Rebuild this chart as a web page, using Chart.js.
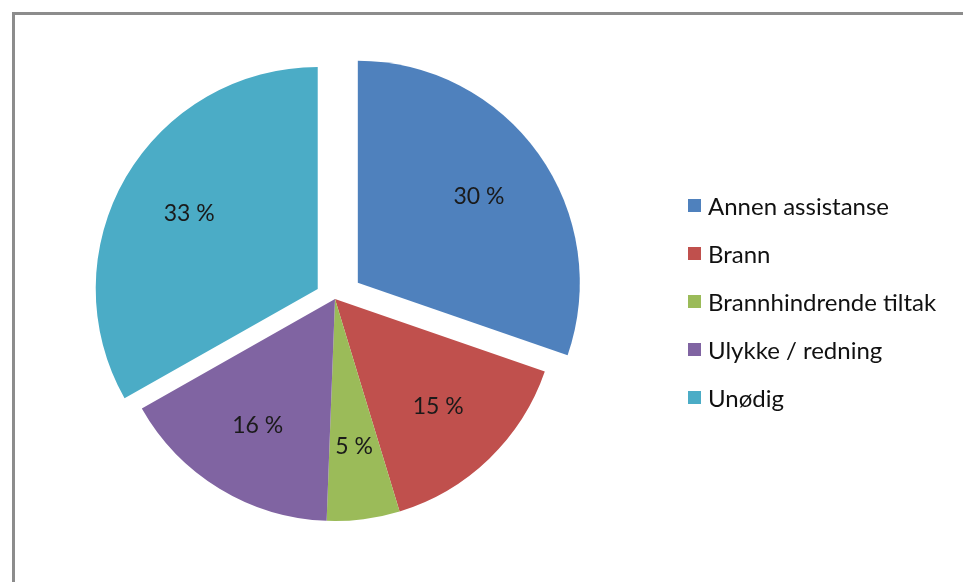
<!DOCTYPE html>
<html>
<head>
<meta charset="utf-8">
<script src="https://cdn.jsdelivr.net/npm/chart.js@4.4.1/dist/chart.umd.min.js"></script>
<style>
  html, body { margin: 0; padding: 0; background: #fff; }
  #wrap { position: relative; width: 963px; height: 582px; overflow: hidden; }
  #frame { position: absolute; left: 12px; top: 12px; width: 980px; height: 600px;
           border-top: 3px solid #8c8c8c; border-left: 3px solid #8c8c8c; }
  #pie { position: absolute; left: 0; top: 0; }
  #legend { position: absolute; left: 688px; top: 181px; font-family: Lato, "Open Sans", sans-serif;
            font-size: 24px; color: #111; }
  .row { height: 48px; display: flex; align-items: center; white-space: nowrap; }
  .box { width: 13px; height: 13px; margin-right: 7px; }
</style>
</head>
<body>
<div id="wrap">
  <div id="frame"></div>
  <canvas id="pie" width="963" height="582"></canvas>
  <div id="legend"></div>
</div>
<script>
// categories and their shares (percent)
var categories = ["Annen assistanse", "Brann", "Brannhindrende tiltak", "Ulykke / redning", "Unødig"];
var shares = [30.3, 15.0, 5.3, 16.2, 33.2];
var colors = ["#4F81BD", "#C0504D", "#9BBB59", "#8064A2", "#4BACC6"];
// how far each slice is pulled out, in px
var explode = [28, 0, 0, 0, 20];

var total = shares.reduce((a, b) => a + b, 0);

// move exploded slices out without growing them (chart.js offset also enlarges the arc)
var explodeSlices = {
  id: "explodeSlices",
  afterDatasetsUpdate(chart) {
    var meta = chart.getDatasetMeta(0);
    meta.data.forEach((arc, i) => {
      if (!explode[i]) return;
      var mid = (arc.startAngle + arc.endAngle) / 2;
      arc.x += Math.cos(mid) * explode[i];
      arc.y += Math.sin(mid) * explode[i];
    });
  }
};

// draws "30 %" etc inside each slice
var sliceLabels = {
  id: "sliceLabels",
  afterDatasetsDraw(chart) {
    var ctx = chart.ctx;
    var meta = chart.getDatasetMeta(0);
    ctx.save();
    ctx.font = "23px Lato, 'Open Sans', sans-serif";
    ctx.fillStyle = "#1a1a1a";
    ctx.textAlign = "center";
    ctx.textBaseline = "middle";
    meta.data.forEach((arc, i) => {
      var mid = (arc.startAngle + arc.endAngle) / 2;
      var r = arc.outerRadius * 0.67;
      var pct = Math.round(shares[i] / total * 100) + " %";
      ctx.fillText(pct, arc.x + Math.cos(mid) * r, arc.y + Math.sin(mid) * r);
    });
    ctx.restore();
  }
};

var chart = new Chart(document.getElementById("pie"), {
  type: "pie",
  data: {
    labels: categories,
    datasets: [{
      data: shares,
      backgroundColor: colors,
      borderWidth: 0,
    }],
  },
  options: {
    responsive: false,
    animation: false,
    radius: 222,
    layout: { padding: { left: 0, right: 293, top: 16, bottom: 0 } },
    plugins: {
      legend: { display: false },
      tooltip: { enabled: false },
    },
  },
  plugins: [explodeSlices, sliceLabels],
});

// legend on the right
var legend = document.getElementById("legend");
categories.forEach((name, i) => {
  var row = document.createElement("div");
  row.className = "row";
  row.innerHTML = '<span class="box" style="background:' + colors[i] + '"></span><span>' + name + "</span>";
  legend.appendChild(row);
});
</script>
</body>
</html>
